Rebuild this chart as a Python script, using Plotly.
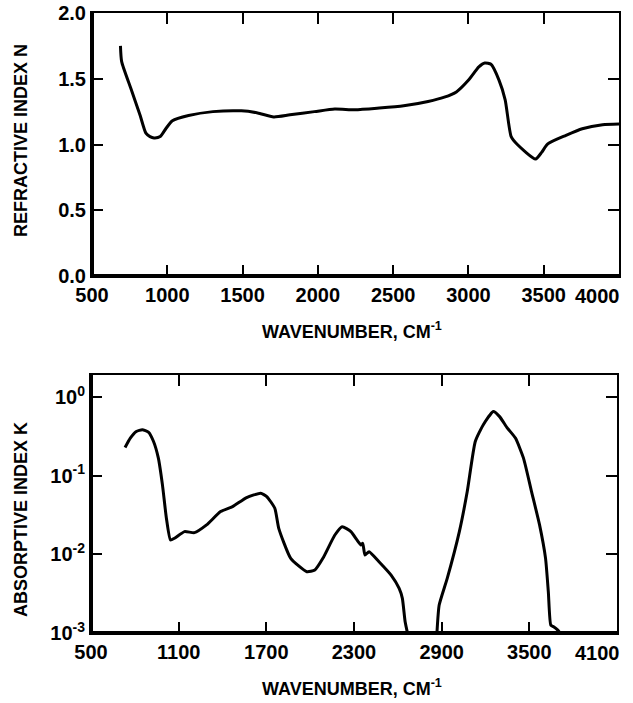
import plotly.graph_objects as go

# Top panel: refractive index N
wn_n = [689, 697, 760, 820, 858, 885, 912, 953, 990, 1034, 1141, 1303, 1492, 1600, 1707,
        1815, 1977, 2112, 2247, 2408, 2570, 2732, 2840, 2920, 3001, 3069, 3109, 3150,
        3203, 3244, 3284, 3325, 3446, 3486, 3527, 3648, 3756, 3891, 4000]
n_vals = [1.75, 1.63, 1.42, 1.22, 1.086, 1.06, 1.05, 1.06, 1.12, 1.18, 1.22, 1.25, 1.256, 1.24, 1.21,
          1.226, 1.25, 1.27, 1.264, 1.277, 1.294, 1.327, 1.36, 1.40, 1.49, 1.59, 1.62, 1.61,
          1.49, 1.34, 1.06, 1.0, 0.89, 0.94, 1.005, 1.07, 1.12, 1.15, 1.155]

# Bottom panel: absorptive index K (two visible segments, None = below 1e-3)
wn_k = [733, 769, 810, 851, 893, 928, 961, 989, 1016, 1044, 1071, 1140, 1208, 1291, 1387,
        1469, 1565, 1661, 1703, 1758, 1785, 1867, 1977, 2032, 2087, 2169, 2219, 2279, 2320,
        2348, 2360, 2375, 2403, 2471, 2554, 2609, 2631, 2650, 2672,
        2770,
        2866, 2883, 2938, 3021, 3075, 3130, 3185, 3254, 3295, 3350, 3405, 3460, 3515, 3570,
        3611, 3630, 3647, 3666, 3693, 3710]
k_log = [-0.641, -0.522, -0.437, -0.416, -0.446, -0.565, -0.777, -1.117, -1.54, -1.817, -1.796,
         -1.711, -1.724, -1.626, -1.456, -1.393, -1.278, -1.223, -1.265, -1.414, -1.669, -2.051,
         -2.221, -2.2, -2.051, -1.754, -1.648, -1.711, -1.817, -1.881, -1.86, -2.008, -1.966,
         -2.093, -2.263, -2.433, -2.56, -2.858, -3.05,
         None,
         -3.05, -2.645, -2.306, -1.711, -1.202, -0.565, -0.352, -0.183, -0.246, -0.395, -0.522,
         -0.777, -1.202, -1.626, -2.051, -2.476, -2.9, -2.92, -2.96, -3.0]
k_vals = [None if v is None else 10 ** v for v in k_log]

n_ticks = [0.0, 0.5, 1.0, 1.5, 2.0]
x_top_ticks = [500, 1000, 1500, 2000, 2500, 3000, 3500, 4000]
x_bot_ticks = [500, 1100, 1700, 2300, 2900, 3500, 4100]
k_ticks = [1e-3, 1e-2, 1e-1, 1]
k_tick_text = ["10<sup>-3</sup>", "10<sup>-2</sup>", "10<sup>-1</sup>", "10<sup>0</sup>"]

W, H = 633, 703
FONT = "Liberation Sans"


def px(x):
    return x / W


def py(y):
    return 1 - y / H


fig = go.Figure()
fig.add_trace(go.Scatter(x=wn_n, y=n_vals, mode="lines", xaxis="x", yaxis="y",
                         line=dict(color="black", width=3, shape="spline", smoothing=0.6),
                         showlegend=False, hoverinfo="skip"))
fig.add_trace(go.Scatter(x=wn_k, y=k_vals, mode="lines", xaxis="x2", yaxis="y2",
                         connectgaps=False,
                         line=dict(color="black", width=3, shape="spline", smoothing=0.5),
                         showlegend=False, hoverinfo="skip"))

tickfont = dict(family=FONT, size=20, color="black", weight="bold")
ann_font = dict(family=FONT, size=18, color="black", weight="bold")

common = dict(showgrid=False, zeroline=False, showline=True, linecolor="black", linewidth=2,
              mirror="ticks", ticks="inside", ticklen=11, tickwidth=2, tickcolor="black",
              tickfont=tickfont, automargin=False)

xd_top = [px(92), px(619)]
yd_top = [py(276), py(13)]
xd_bot = [px(91), px(617)]
yd_bot = [py(633), py(375)]

# last x tick labels are placed as annotations (right-aligned like the original)
x_top_text = [str(v) for v in x_top_ticks[:-1]] + [""]
x_bot_text = [str(v) for v in x_bot_ticks[:-1]] + [""]

fig.update_layout(
    width=W, height=H,
    margin=dict(l=0, r=0, t=0, b=0),
    paper_bgcolor="white", plot_bgcolor="white",
    hovermode=False,
    xaxis=dict(domain=xd_top, range=[500, 4000], tickvals=x_top_ticks, ticktext=x_top_text,
               anchor="y", **common),
    yaxis=dict(domain=yd_top, range=[0, 2.0], tickvals=n_ticks, tickformat=".1f", anchor="x",
               ticklabelstandoff=0, **common),
    xaxis2=dict(domain=xd_bot, range=[500, 4100], tickvals=x_bot_ticks, ticktext=x_bot_text,
                anchor="y2", **common),
    yaxis2=dict(domain=yd_bot, type="log", range=[-3, 0.28], tickvals=k_ticks,
                ticktext=k_tick_text, anchor="x2", ticklabelstandoff=0, **common),
)

# last tick labels
fig.add_annotation(text=str(x_top_ticks[-1]), xref="x", x=x_top_ticks[-1], yref="paper",
                   y=py(283), xanchor="right", yanchor="top", xshift=3, showarrow=False,
                   font=tickfont)
fig.add_annotation(text=str(x_bot_ticks[-1]), xref="x2", x=x_bot_ticks[-1], yref="paper",
                   y=py(640), xanchor="right", yanchor="top", xshift=5, showarrow=False,
                   font=tickfont)
# axis titles
fig.add_annotation(text="REFRACTIVE INDEX N", xref="paper", x=px(21), yref="paper",
                   y=py(141), textangle=-90, showarrow=False, font=ann_font,
                   xanchor="center", yanchor="middle")
fig.add_annotation(text="ABSORPTIVE INDEX K", xref="paper", x=px(21), yref="paper",
                   y=py(520), textangle=-90, showarrow=False, font=ann_font,
                   xanchor="center", yanchor="middle")
fig.add_annotation(text="WAVENUMBER, CM<sup>-1</sup>", xref="paper", x=px(352), yref="paper",
                   y=py(330), showarrow=False, font=ann_font,
                   xanchor="center", yanchor="middle")
fig.add_annotation(text="WAVENUMBER, CM<sup>-1</sup>", xref="paper", x=px(352), yref="paper",
                   y=py(687), showarrow=False, font=ann_font,
                   xanchor="center", yanchor="middle")

# thicker left and bottom frame lines
for xr, yr in (("x domain", "y domain"), ("x2 domain", "y2 domain")):
    fig.add_shape(type="line", xref=xr, yref=yr, x0=0, x1=0, y0=0, y1=1,
                  line=dict(color="black", width=4), layer="above")
    fig.add_shape(type="line", xref=xr, yref=yr, x0=0, x1=1, y0=0, y1=0,
                  line=dict(color="black", width=4), layer="above")

fig.write_html("out.html", config={"displayModeBar": False, "staticPlot": True},
               post_script="document.body.style.margin='0';document.body.style.overflow='hidden';")
